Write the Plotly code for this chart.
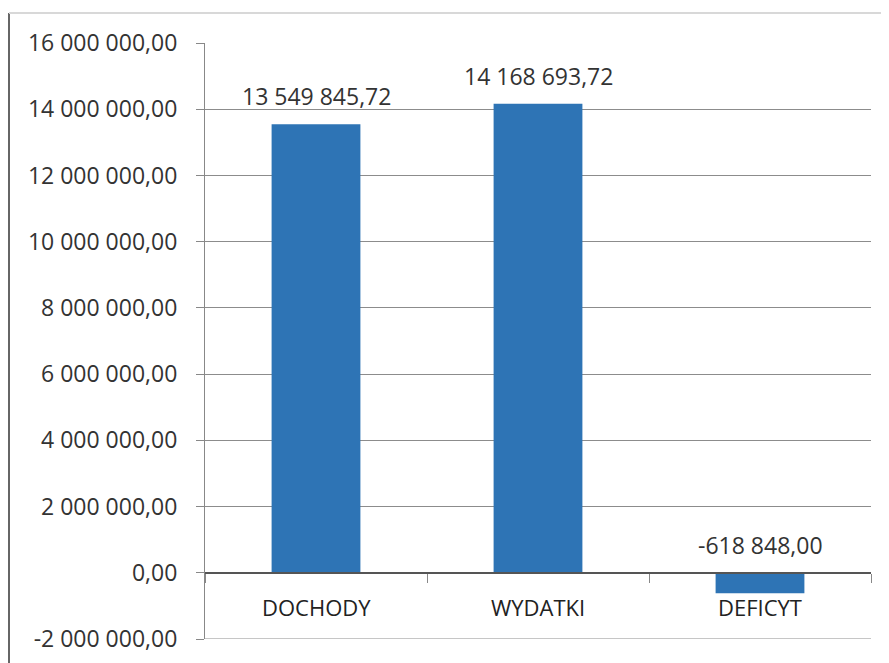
import plotly.graph_objects as go

categories = ["DOCHODY", "WYDATKI", "DEFICYT"]
values = [13549845.72, 14168693.72, -618848.00]
value_labels = ["13 549 845,72", "14 168 693,72", "-618 848,00"]
tick_values = [-2000000, 0, 2000000, 4000000, 6000000, 8000000, 10000000, 12000000, 14000000, 16000000]
tick_labels = ["-2 000 000,00", "0,00", "2 000 000,00", "4 000 000,00", "6 000 000,00",
               "8 000 000,00", "10 000 000,00", "12 000 000,00", "14 000 000,00", "16 000 000,00"]

FONT = "Open Sans"
TXT = "#333333"
OFF = 8  # default page body margin
W, H = 889 - OFF, 663 - OFF
ML, MT = 205 - OFF, 43 - OFF
MR, MB = 18, 24
PW, PH = W - ML - MR, H - MT - MB
ymin, ymax = -2000000, 16000000

fig = go.Figure()
fig.add_trace(go.Bar(
    x=categories, y=values, width=0.4,
    marker=dict(color="#2e74b5", line=dict(width=0)),
    showlegend=False, hoverinfo="x+y",
))

# data labels
for c, v, t in zip(categories, values, value_labels):
    fig.add_annotation(x=c, y=max(v, 0), text=t, showarrow=False,
                       yanchor="bottom", yshift=10,
                       font=dict(family=FONT, size=23, color=TXT))

# category labels just below the zero line
for c in categories:
    fig.add_annotation(x=c, y=0, text=c, showarrow=False,
                       yanchor="top", yshift=-17,
                       font=dict(family=FONT, size=22, color="#222222"))

zero_pos = (0 - ymin) / (ymax - ymin)

fig.update_layout(
    width=W, height=H,
    margin=dict(l=ML, r=MR, t=MT, b=MB),
    paper_bgcolor="white", plot_bgcolor="white",
    xaxis=dict(
        type="category", anchor="free", position=zero_pos,
        showline=True, linecolor="#555555", linewidth=1.5,
        ticks="outside", tickson="boundaries", ticklen=9, tickcolor="#888888",
        showgrid=False, zeroline=False, showticklabels=False,
        range=[-0.5, 2.5], automargin=False,
    ),
    yaxis=dict(
        range=[ymin, ymax], tickvals=tick_values, ticktext=tick_labels,
        showline=True, linecolor="#888888", linewidth=1.2,
        ticks="outside", ticklen=8, tickcolor="#888888",
        ticklabelstandoff=14,
        showgrid=True, gridcolor="#8c8c8c", gridwidth=1,
        zeroline=False, automargin=False,
        tickfont=dict(family=FONT, size=23, color=TXT),
    ),
)

# bottom gridline at the range minimum (hidden by plotly at the axis edge)
fig.add_shape(type="line", xref="paper", yref="y",
              x0=0, x1=1, y0=ymin, y1=ymin,
              line=dict(color="#8c8c8c", width=1), layer="below")

# chart frame (left and top borders of the scanned chart area)
x_left = (1 - ML) / PW
y_top = (H - MB - 5) / PH
fig.add_shape(type="line", xref="paper", yref="paper",
              x0=x_left, x1=x_left, y0=y_top, y1=(-MB) / PH,
              line=dict(color="#666666", width=2))
fig.add_shape(type="line", xref="paper", yref="paper",
              x0=x_left, x1=(W - ML) / PW, y0=y_top, y1=y_top,
              line=dict(color="#d8d8d8", width=2))

fig.write_html("out.html")
